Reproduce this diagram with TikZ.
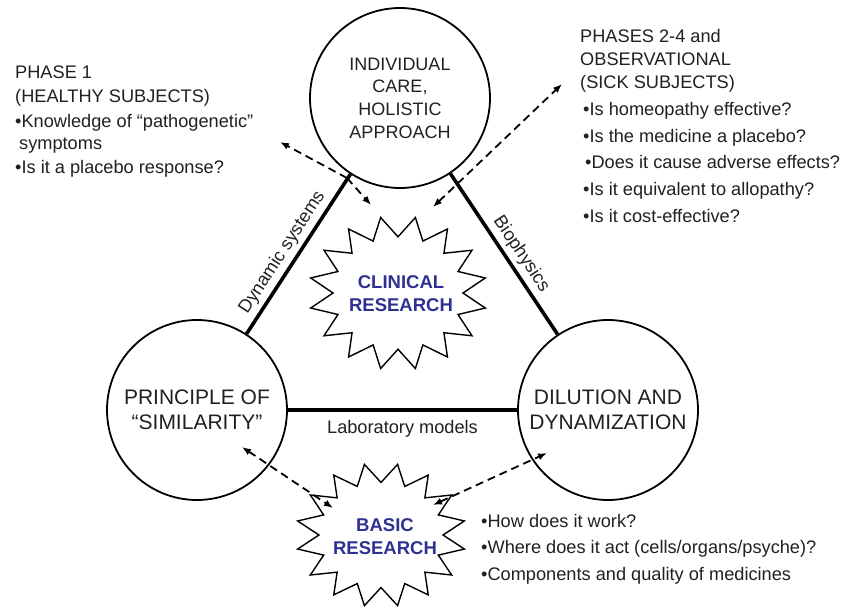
\documentclass[tikz,border=0pt]{standalone}
\usepackage{fontspec}
\setmainfont{Liberation Sans}
\usetikzlibrary{arrows.meta}
\definecolor{ink}{RGB}{35,31,32}
\definecolor{resblue}{RGB}{46,49,146}
\newcommand\drawstarburst[4]{%
  \draw[starline] plot[samples at={0,...,31}, variable=\k]
    ({#1+(1-0.27*mod(\k,2))*#3*cos(11.25*\k+11.25)},
     {#2+(1-0.27*mod(\k,2))*#4*sin(11.25*\k+11.25)}) -- cycle;}
\begin{document}
\begin{tikzpicture}[x=1pt,y=-1pt,
  bigcirc/.style={circle,draw=black,line width=1.8pt,minimum size=180pt,inner sep=0pt,align=center,text=ink},
  tri/.style={line width=3.6pt,black},
  starline/.style={line width=1.4pt,black,line join=miter,fill=white},
  dasharrow/.style={line width=1.8pt,dash pattern=on 8pt off 5pt,black,
     arrows={-Latex[length=9pt,width=7pt]}},
  dbl/.style={arrows={Latex[length=9pt,width=7pt]-Latex[length=9pt,width=7pt]}},
  txt/.style={anchor=base west,inner sep=0pt,text=ink,font=\fontsize{18.2}{22}\selectfont},
  edgelab/.style={text=ink,font=\fontsize{18.2}{22}\selectfont,inner sep=4pt},
  restxt/.style={text=resblue,font=\fontsize{18.5}{23}\selectfont\bfseries,align=center,inner sep=0pt}]
\useasboundingbox (0,0) rectangle (841,613);

% stars
\drawstarburst{398}{293}{89}{77}
\drawstarburst{381}{535}{85}{72}

% circles
\node[bigcirc,font=\fontsize{18}{22.7}\selectfont] (T) at (400,98) {INDIVIDUAL\\CARE,\\HOLISTIC\\APPROACH};
\node[bigcirc,font=\fontsize{21}{25}\selectfont] (L) at (197,410) {PRINCIPLE OF\\“SIMILARITY”};
\node[bigcirc,font=\fontsize{21}{25}\selectfont] (R) at (608,410) {DILUTION AND\\DYNAMIZATION};

% triangle
\draw[tri] (L) -- node[sloped,above,edgelab,pos=0.46] {Dynamic systems} (T);
\draw[tri] (T) -- node[sloped,above,edgelab,pos=0.55] {Biophysics} (R);
\draw[tri] (L) -- node[below,edgelab,inner sep=9pt] {Laboratory models} (R);

% star texts
\node[restxt] (clin) at (401,294) {CLINICAL\\RESEARCH};
\node[restxt] (basic) at (385,537) {BASIC\\RESEARCH};

% dashed arrows
\coordinate (jA) at (347,178);
\coordinate (aA1) at (280,142);
\coordinate (aA2) at (371,205);
\draw[dasharrow] (jA) -- (aA1);
\draw[dasharrow] (jA) -- (aA2);
\coordinate (bB1) at (562,84);
\coordinate (bB2) at (433,207);
\draw[dasharrow,dbl] (bB2) -- (bB1);
\coordinate (cC1) at (242,447);
\coordinate (cC2) at (333,508);
\draw[dasharrow,dbl] (cC1) -- (cC2);
\coordinate (dD1) at (433,505);
\coordinate (dD2) at (547,453);
\draw[dasharrow,dbl] (dD1) -- (dD2);

% left text block
\node[txt] (p1a) at (15,78) {PHASE 1};
\node[txt] (p1b) at (15,102) {(HEALTHY SUBJECTS)};
\node[txt] (p1c) at (15,127) {•Knowledge of “pathogenetic”};
\node[txt] (p1d) at (19,149) {symptoms};
\node[txt] (p1e) at (15,173) {•Is it a placebo response?};

% right text block
\node[txt] (p2a) at (580,42) {PHASES 2-4 and};
\node[txt] (p2b) at (580,65) {OBSERVATIONAL};
\node[txt] (p2c) at (580,88) {(SICK SUBJECTS)};
\node[txt] (p2d) at (583,115) {•Is homeopathy effective?};
\node[txt] (p2e) at (583,142) {•Is the medicine a placebo?};
\node[txt] (p2f) at (585,168) {•Does it cause adverse effects?};
\node[txt] (p2g) at (583,195) {•Is it equivalent to allopathy?};
\node[txt] (p2h) at (583,222) {•Is it cost-effective?};

% bottom right block
\node[txt] (b1) at (481,527) {•How does it work?};
\node[txt] (b2) at (481,553) {•Where does it act (cells/organs/psyche)?};
\node[txt] (b3) at (481,580) {•Components and quality of medicines};
\end{tikzpicture}
\end{document}
